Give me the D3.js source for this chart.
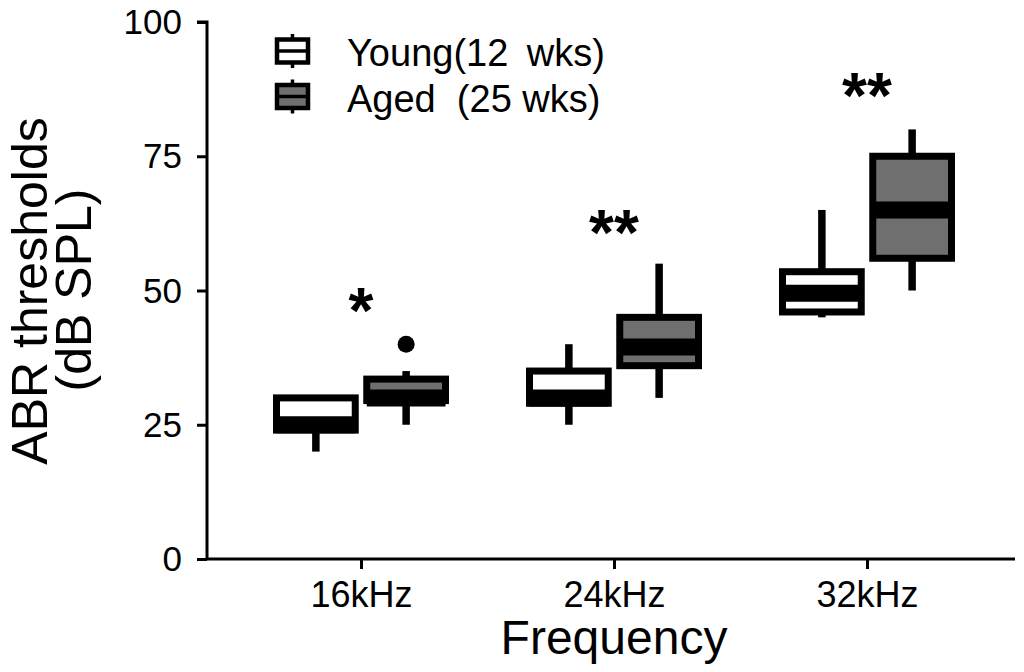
<!DOCTYPE html>
<html><head><meta charset="utf-8">
<script src="https://cdn.jsdelivr.net/npm/d3@7"></script>
<style>body{margin:0;background:#fff}svg{display:block}text{font-family:"Liberation Sans",Arial,sans-serif;fill:#000}</style>
</head><body><svg id="c" width="1024" height="672"></svg>
<script>
const categories = ["16kHz","24kHz","32kHz"];
const groups = ["Young(12 wks)","Aged  (25 wks)"];
const youngMin = [20, 25, 45];
const youngQ1  = [24, 29, 46];
const youngMed = [25, 30, 49.5];
const youngQ3  = [30, 35, 53.5];
const youngMax = [30, 40, 65];
const agedMin  = [25, 30, 50];
const agedQ1   = [29.5, 36, 56];
const agedMed  = [30, 39.5, 65];
const agedQ3   = [33.5, 45, 75];
const agedMax  = [35, 55, 80];
const agedOutliers = [[40], [], []];
const youngOutliers = [[], [], []];
const stars = ["*", "**", "**"];
const starLevels = [42, 56.7, 82.2];
const yTicks = [0, 25, 50, 75, 100];

const svg = d3.select("#c");
const y = d3.scaleLinear().domain([0,100]).range([559,22]);
const x = d3.scalePoint().domain(categories).range([361,867]);
const xs = d3.scaleBand().domain([0,1]).range([-88,88]).paddingInner(0.05);
const fills = ["#ffffff","#6f6f6f"];

const series = [
  {min:youngMin,q1:youngQ1,med:youngMed,q3:youngQ3,max:youngMax,out:youngOutliers},
  {min:agedMin,q1:agedQ1,med:agedMed,q3:agedQ3,max:agedMax,out:agedOutliers}
];

// axes
const yAxis = d3.axisLeft(y).tickValues(yTicks).tickSize(10).tickPadding(15);
const gy = svg.append("g").attr("transform","translate(207,0)").call(yAxis);
gy.select(".domain").attr("stroke-width",3).attr("d","M-10,22H0V559");
gy.selectAll(".tick line").attr("stroke-width",3);
gy.selectAll(".tick text").style("font-size","35px").style("font-family","'Liberation Sans',Arial,sans-serif").attr("dy","0.33em");

const xAxis = d3.axisBottom(x).tickSize(10).tickPadding(12);
const gx = svg.append("g").attr("transform","translate(0,559)").call(xAxis);
gx.select(".domain").attr("stroke-width",3).attr("d","M207,0H1015");
gx.selectAll(".tick line").attr("stroke-width",3);
gx.selectAll(".tick text").style("font-size","36px").style("font-family","'Liberation Sans',Arial,sans-serif").attr("dy","0.71em");

// boxes
const bw = xs.bandwidth();
series.forEach((s,si)=>{
  const g = svg.append("g");
  categories.forEach((c,i)=>{
    const cx = x(c) + xs(si) + bw/2;
    g.append("line").attr("x1",cx).attr("x2",cx).attr("y1",y(s.max[i])).attr("y2",y(s.q3[i]))
      .attr("stroke","#000").attr("stroke-width",7.5);
    g.append("line").attr("x1",cx).attr("x2",cx).attr("y1",y(s.q1[i])).attr("y2",y(s.min[i]))
      .attr("stroke","#000").attr("stroke-width",7.5);
    g.append("rect").attr("x",cx-bw/2+3.5).attr("width",bw-7)
      .attr("y",y(s.q3[i])).attr("height",y(s.q1[i])-y(s.q3[i]))
      .attr("fill",fills[si]).attr("stroke","#000").attr("stroke-width",7);
    g.append("line").attr("x1",cx-bw/2+3.5).attr("x2",cx+bw/2-3.5)
      .attr("y1",y(s.med[i])).attr("y2",y(s.med[i]))
      .attr("stroke","#000").attr("stroke-width",17);
    s.out[i].forEach(o=>{
      g.append("circle").attr("cx",cx).attr("cy",y(o)).attr("r",8.5).attr("fill","#000");
    });
  });
});

// significance stars
categories.forEach((c,i)=>{
  svg.append("text").attr("x",x(c)).attr("y",y(starLevels[i])).attr("text-anchor","middle")
    .style("font-size","64px").style("font-weight","bold").text(stars[i]);
});

// legend
const lg = svg.append("g");
groups.forEach((gname,i)=>{
  const ly = 51 + i*45.5;
  lg.append("line").attr("x1",292.5).attr("x2",292.5).attr("y1",ly-17).attr("y2",ly+17)
    .attr("stroke","#000").attr("stroke-width",3.5);
  lg.append("rect").attr("x",277).attr("y",ly-11.5).attr("width",31).attr("height",23)
    .attr("fill",fills[i]).attr("stroke","#000").attr("stroke-width",4.5);
  lg.append("line").attr("x1",277).attr("x2",308).attr("y1",ly).attr("y2",ly)
    .attr("stroke","#000").attr("stroke-width",3.5);
  lg.append("text").attr("x",347).attr("y",ly+15).style("font-size","38px")
    .attr("xml:space","preserve").style("white-space","pre")
    .style("word-spacing", i===0 ? "8px" : "0px").text(gname);
});

// axis titles
svg.append("text").attr("x",614).attr("y",654).attr("text-anchor","middle")
  .style("font-size","48px").text("Frequency");
svg.append("text").attr("transform","translate(47,291) rotate(-90)").attr("text-anchor","middle")
  .style("font-size","50px").text("ABR thresholds");
svg.append("text").attr("transform","translate(91,290) rotate(-90)").attr("text-anchor","middle")
  .style("font-size","50px").text("(dB SPL)");
</script></body></html>
